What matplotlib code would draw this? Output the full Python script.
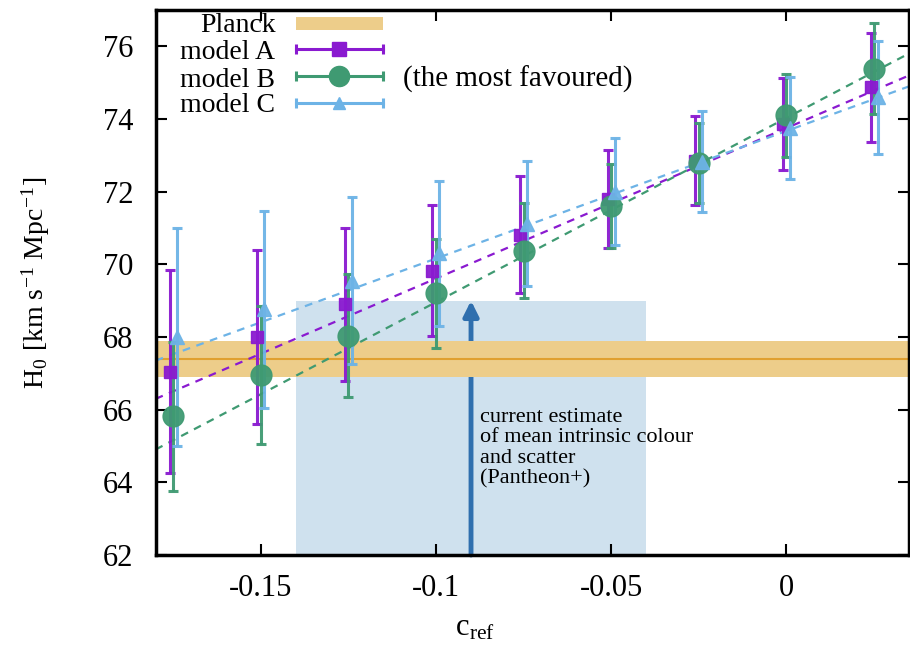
import numpy as np
import matplotlib.pyplot as plt

plt.rcParams['font.family'] = ['Liberation Serif', 'DejaVu Serif']
plt.rcParams['mathtext.fontset'] = 'stix'

# data
c_ref = np.array([-0.175, -0.15, -0.125, -0.1, -0.075, -0.05, -0.025, 0.0, 0.025])
h0_A = np.array([67.05, 68.0, 68.9, 69.83, 70.82, 71.8, 72.85, 73.87, 74.88])
err_A = np.array([2.8, 2.4, 2.1, 1.8, 1.6, 1.35, 1.22, 1.27, 1.5])
h0_B = np.array([65.82, 66.95, 68.04, 69.2, 70.38, 71.6, 72.8, 74.1, 75.38])
err_B = np.array([2.05, 1.9, 1.7, 1.5, 1.3, 1.15, 1.1, 1.15, 1.25])
h0_C = np.array([68.0, 68.76, 69.55, 70.3, 71.12, 72.0, 72.83, 73.75, 74.6])
err_C = np.array([3.0, 2.7, 2.3, 2.0, 1.72, 1.48, 1.38, 1.4, 1.55])

# dashed relations H0 = a + b*c_ref  (A, B, C)
line_a = [73.75, 74.03, 73.67]
line_b = [41.4, 50.7, 35.1]

planck = 67.4
planck_err = 0.5
pantheon_lo, pantheon_hi = -0.14, -0.04
pantheon_mean = -0.09
pantheon_top = 69.0

labels = ['Planck', 'model A', 'model B', 'model C']
col_A = '#8a1ad0'
col_B = '#3f9a72'
col_C = '#6db3e6'
col_P = '#edcd8a'

fig = plt.figure(figsize=(9.1, 6.45), dpi=100)
ax = fig.add_axes([0.171, 0.1395, 0.828, 0.845])

xlim = (-0.18, 0.035)
ax.set_xlim(*xlim)
ax.set_ylim(62, 77)

# Pantheon+ box and arrow
ax.fill_between([pantheon_lo, pantheon_hi], 62, pantheon_top, color='#cfe1ee', lw=0, zorder=1)
ax.annotate('', xy=(pantheon_mean, pantheon_top), xytext=(pantheon_mean, 62),
            arrowprops=dict(arrowstyle='-|>,head_width=0.45,head_length=0.9',
                            color='#2f6fae', lw=3.5, shrinkA=0, shrinkB=0), zorder=2)
ax.text(-0.0875, 66.05, 'current estimate\nof mean intrinsic colour\nand scatter\n(Pantheon+)',
        fontsize=16, va='top', ha='left', linespacing=1.1, zorder=6)

# Planck band
ax.axhspan(planck - planck_err, planck + planck_err, color=col_P, lw=0, zorder=3)
ax.axhline(planck, color='#e0a030', lw=1.5, zorder=3)

# dashed lines
xx = np.linspace(xlim[0], xlim[1], 50)
for a, b, col in zip(line_a, line_b, [col_A, col_B, col_C]):
    ax.plot(xx, a + b * xx, ls=(0, (3.5, 3)), color=col, lw=1.6, zorder=4)

dx = 0.001
ax.errorbar(c_ref - dx, h0_A, yerr=err_A, fmt='s', color=col_A, ms=9, elinewidth=2.2,
            capsize=3.5, capthick=2.2, zorder=5, alpha=0.95)
ax.errorbar(c_ref, h0_B, yerr=err_B, fmt='o', color=col_B, ms=15, elinewidth=2.2,
            capsize=3.5, capthick=2.2, zorder=5, alpha=0.95)
ax.errorbar(c_ref + dx, h0_C, yerr=err_C, fmt='^', color=col_C, ms=10, elinewidth=2.2,
            capsize=3.5, capthick=2.2, zorder=5, alpha=0.95)

# legend, gnuplot style: labels right aligned, keys to the right
tr = ax.transAxes
text_rows = [0.9596, 0.910, 0.8587, 0.8128]
key_rows = [0.975, 0.928, 0.879, 0.829]
kx0, kx1 = 0.186, 0.3015
for lab, y in zip(labels, text_rows):
    ax.text(0.159, y, lab, transform=tr, fontsize=20, ha='right', va='baseline', zorder=9)
ax.fill_between([kx0, kx1], key_rows[0] - 0.012, key_rows[0] + 0.012, transform=tr,
                color=col_P, lw=0, zorder=9)
for y, col, mk, ms in zip(key_rows[1:], [col_A, col_B, col_C], ['s', 'o', '^'], [10, 14.5, 9]):
    ax.plot([kx0, kx1], [y, y], transform=tr, color=col, lw=2.2, zorder=9)
    ax.plot([kx0, kx1], [y, y], transform=tr, ls='none', marker='|', ms=7, mew=2.2,
            color=col, zorder=9)
    ax.plot([(kx0 + kx1) / 2], [y], transform=tr, marker=mk, ms=ms, color=col, zorder=9)

ax.text(0.328, text_rows[2], '(the most favoured)', transform=tr, fontsize=21,
        va='baseline', ha='left', zorder=9)

ax.set_xticks([-0.15, -0.1, -0.05, 0])
ax.set_xticklabels(['-0.15', '-0.1', '-0.05', '0'])
ax.set_yticks(np.arange(62, 77, 2))
ax.tick_params(direction='in', length=8, width=1.5, top=True, right=True, labelsize=22)
ax.tick_params(axis='x', pad=14)
ax.tick_params(axis='y', pad=16)
for s in ax.spines.values():
    s.set_linewidth(2.5)
    s.set_zorder(10)

ax.set_xlabel(r'c$_\mathregular{ref}$', fontsize=22)
ax.xaxis.set_label_coords(0.424, -0.108)
ax.set_ylabel(r'H$_\mathregular{0}$ [km s$^\mathregular{-1}$ Mpc$^\mathregular{-1}$]', fontsize=20)
ax.yaxis.set_label_coords(-0.137, 0.5)

fig.savefig('out.png', dpi=100)
